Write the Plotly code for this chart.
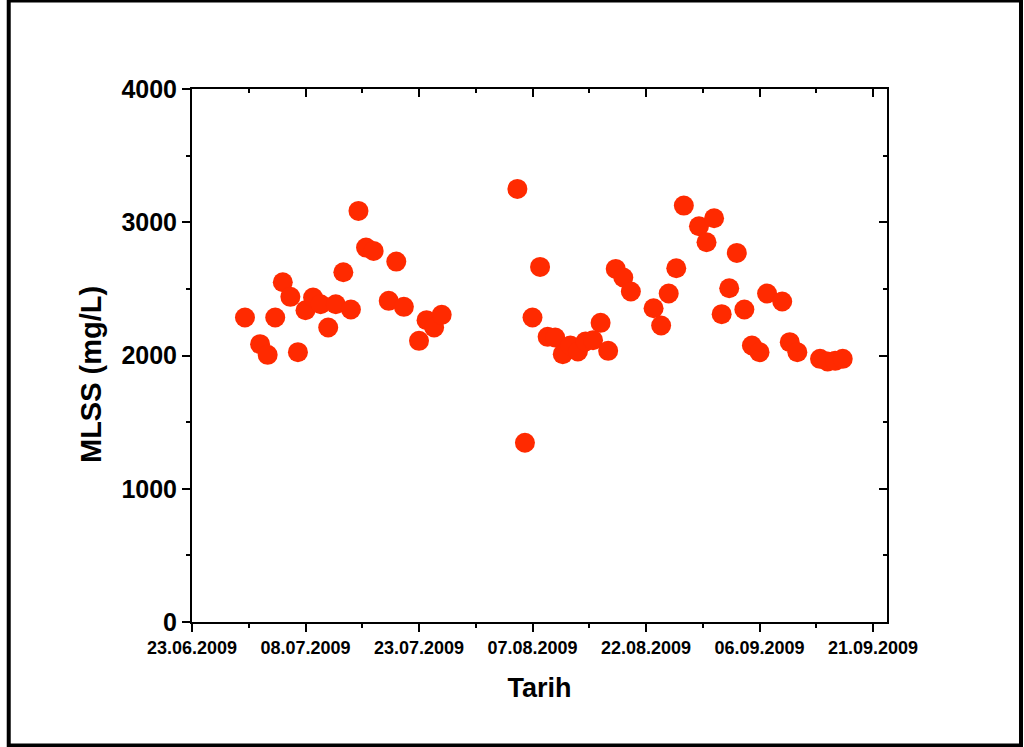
import plotly.graph_objects as go

dates = [
    "2009-06-30", "2009-07-02", "2009-07-03", "2009-07-04", "2009-07-05", "2009-07-06",
    "2009-07-07", "2009-07-08", "2009-07-09", "2009-07-10", "2009-07-11", "2009-07-12",
    "2009-07-13", "2009-07-14", "2009-07-15", "2009-07-16", "2009-07-17", "2009-07-19",
    "2009-07-20", "2009-07-21", "2009-07-23", "2009-07-24", "2009-07-25", "2009-07-26",
    "2009-08-05", "2009-08-06", "2009-08-07", "2009-08-08", "2009-08-09", "2009-08-10",
    "2009-08-11", "2009-08-12", "2009-08-13", "2009-08-14", "2009-08-15", "2009-08-16",
    "2009-08-17", "2009-08-18", "2009-08-19", "2009-08-20", "2009-08-23", "2009-08-24",
    "2009-08-25", "2009-08-26", "2009-08-27", "2009-08-29", "2009-08-30", "2009-08-31",
    "2009-09-01", "2009-09-02", "2009-09-03", "2009-09-04", "2009-09-05", "2009-09-06",
    "2009-09-07", "2009-09-09", "2009-09-10", "2009-09-11", "2009-09-14", "2009-09-15",
    "2009-09-16", "2009-09-17",
]
mlss = [
    2285, 2085, 2005, 2285, 2550, 2440,
    2025, 2340, 2435, 2385, 2210, 2385,
    2625, 2345, 3085, 2810, 2785, 2410,
    2705, 2365, 2110, 2265, 2210, 2305,
    3250, 1345, 2285, 2665, 2140, 2135,
    2010, 2075, 2030, 2105, 2115, 2245,
    2035, 2650, 2585, 2480, 2355, 2225,
    2465, 2655, 3125, 2970, 2850, 3030,
    2310, 2505, 2770, 2345, 2075, 2025,
    2465, 2405, 2100, 2025, 1975, 1955,
    1960, 1975,
]

x_range = ["2009-06-23", "2009-09-22 20:24"]
y_range = [0, 4000]
x_title = "Tarih"
y_title = "MLSS (mg/L)"

DAY = 86400000
BOLD = dict(family="Liberation Sans, Arial, sans-serif", weight="bold", color="black")

fig = go.Figure()
fig.add_trace(go.Scatter(
    x=dates, y=mlss, mode="markers",
    marker=dict(size=20, color="#FF2A00", line=dict(width=0)),
    showlegend=False, hoverinfo="x+y",
))
# empty trace to realise the mirrored (top/right) axes
fig.add_trace(go.Scatter(x=[], y=[], xaxis="x2", yaxis="y2", showlegend=False))

fig.update_layout(
    width=1024, height=747,
    margin=dict(l=192, r=137, t=89, b=125),
    paper_bgcolor="white", plot_bgcolor="white",
    xaxis=dict(
        type="date", range=x_range, tick0="2009-06-23", dtick=15 * DAY,
        tickformat="%d.%m.%Y", showgrid=False, zeroline=False,
        showline=True, linecolor="black", linewidth=2,
        ticks="outside", ticklen=8, tickwidth=2, tickcolor="black",
        minor=dict(ticks="outside", ticklen=4, tickwidth=2, tickcolor="black",
                   dtick=7.5 * DAY, tick0="2009-06-23", showgrid=False),
        tickfont=dict(size=18, **BOLD),
        title=dict(text=x_title, font=dict(size=27, **BOLD), standoff=22),
        automargin=False,
    ),
    yaxis=dict(
        range=y_range, dtick=1000, tick0=0, showgrid=False, zeroline=False,
        showline=True, linecolor="black", linewidth=2,
        ticks="outside", ticklen=8, tickwidth=2, tickcolor="black",
        minor=dict(ticks="outside", ticklen=4, tickwidth=2, tickcolor="black",
                   dtick=500, showgrid=False),
        tickfont=dict(size=25, **BOLD),
        automargin=False,
    ),
    xaxis2=dict(
        type="date", range=x_range, overlaying="x", side="top", anchor="y2",
        tick0="2009-06-23", dtick=15 * DAY, showticklabels=False,
        showgrid=False, zeroline=False, showline=True, linecolor="black", linewidth=2,
        ticks="inside", ticklen=8, tickwidth=2, tickcolor="black",
        minor=dict(ticks="inside", ticklen=4, tickwidth=2, tickcolor="black",
                   dtick=7.5 * DAY, tick0="2009-06-23", showgrid=False),
    ),
    yaxis2=dict(
        range=y_range, overlaying="y", side="right", anchor="x2",
        dtick=1000, tick0=0, showticklabels=False,
        showgrid=False, zeroline=False, showline=True, linecolor="black", linewidth=2,
        ticks="inside", ticklen=8, tickwidth=2, tickcolor="black",
        minor=dict(ticks="inside", ticklen=4, tickwidth=2, tickcolor="black",
                   dtick=500, showgrid=False),
    ),
    annotations=[dict(
        text=y_title, xref="paper", yref="paper", x=-0.1453, y=0.4634,
        xanchor="center", yanchor="middle", textangle=-90, showarrow=False,
        font=dict(size=29, **BOLD),
    )],
    shapes=[dict(
        type="rect", xref="paper", yref="paper",
        x0=-0.2637, x1=1.1928, y0=-0.2316, y1=1.1659,
        line=dict(color="black", width=4), fillcolor="rgba(0,0,0,0)", layer="above",
    )],
)

fig.write_html("out.html")
